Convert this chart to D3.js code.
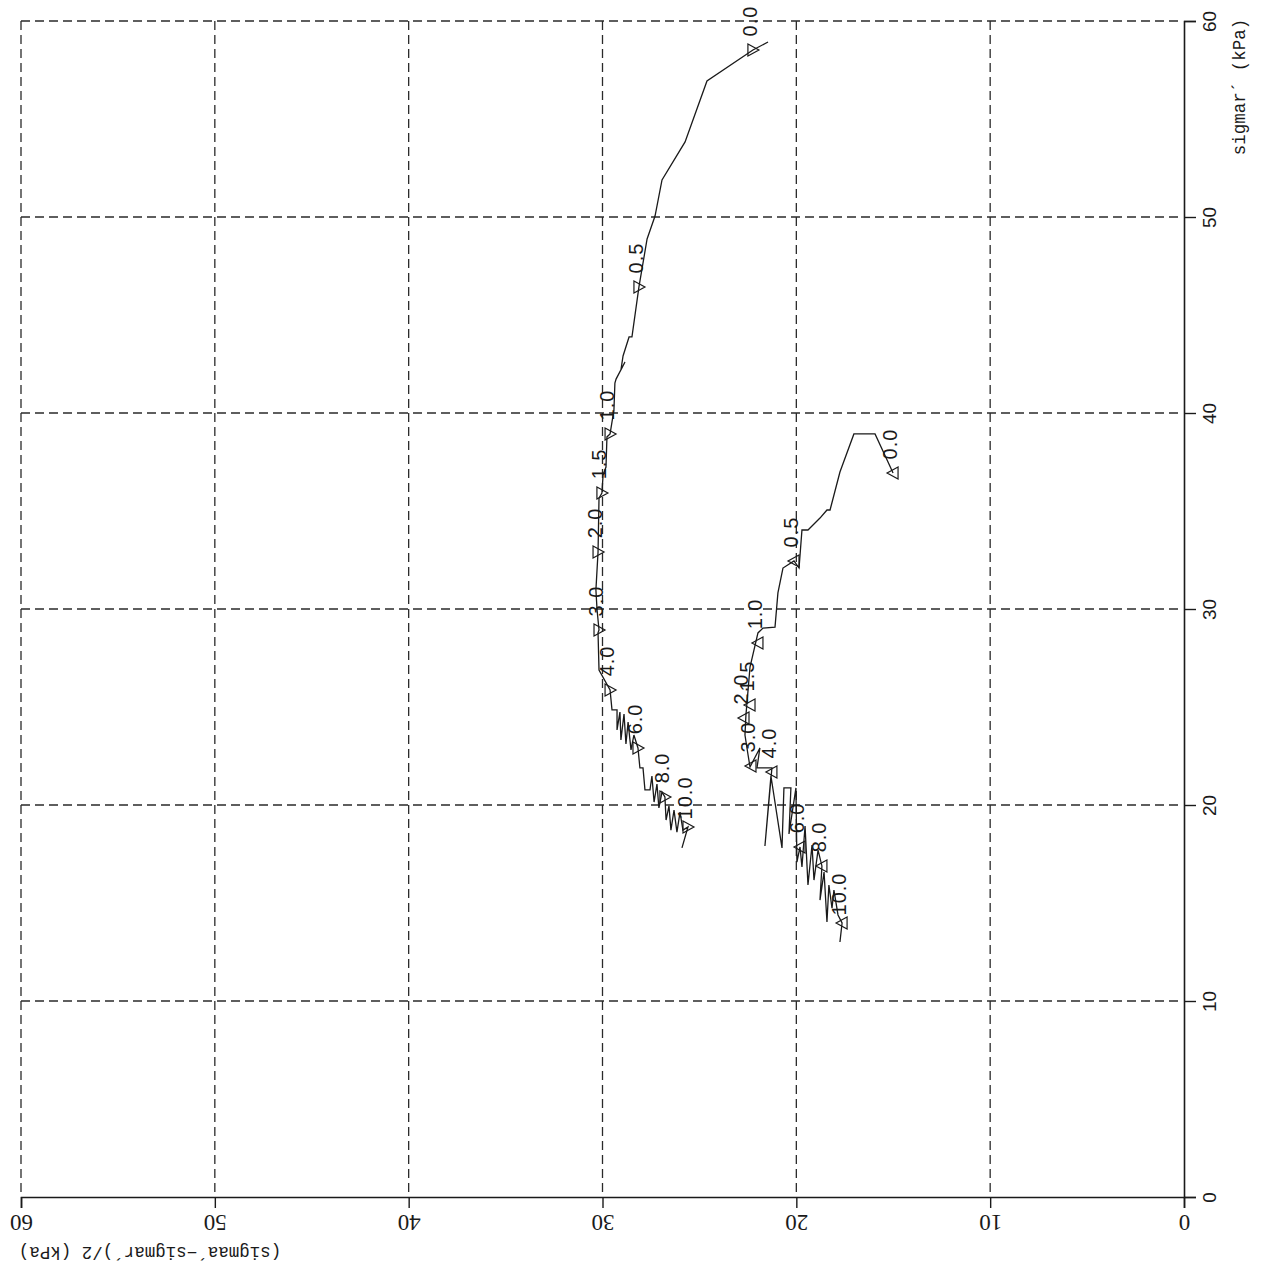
<!DOCTYPE html>
<html><head><meta charset="utf-8">
<script src="https://cdn.jsdelivr.net/npm/d3@7"></script>
<style>html,body{margin:0;padding:0;background:#fff;}</style>
</head><body>
<svg id="chart" width="1265" height="1266"></svg>
<script>
// ---- data ----
const majorTicks = [0, 10, 20, 30, 40, 50, 60];
const tickLabels = ["0", "10", "20", "30", "40", "50", "60"];
const minorTicks = [2,4,6,8,12,14,16,18,22,24,26,28,32,34,36,38,42,44,46,48,52,54,56,58];
const xTitle = "(sigmaa\u00B4\u2212sigmar\u00B4)/2 (kPa)";
const yTitle = "sigmar\u00B4 (kPa)";

// test A (left path): q = (sigmaa'-sigmar')/2, s = sigmar'
const pathA_q = [21.46,22.24,24.61,25.74,26.93,27.29,27.70,28.12,28.48,28.63,28.94,29.05,28.84,29.30,29.36,29.41,29.61,29.77,29.82,29.97,30.03,30.18,30.23,30.34,30.28,30.18,30.23,30.18,29.61,29.51,29.25,29.25,29.10,29.05,28.89,28.79,28.68,28.53,28.38,28.17,28.07,27.91,27.81,27.55,27.45,27.34,27.19,27.09,26.93,26.78,26.72,26.57,26.47,26.31,26.16,26.00,25.85,25.59,25.90];
const pathA_s = [58.93,58.52,56.94,53.83,51.89,50.05,48.88,46.43,43.88,43.88,42.91,42.19,42.60,41.73,41.53,40.15,38.93,38.78,37.24,36.84,35.92,35.66,32.91,30.97,29.95,28.93,28.78,26.89,25.87,24.85,24.85,23.83,24.74,23.32,24.64,23.11,24.23,22.81,23.57,22.91,21.89,21.89,20.77,20.77,21.48,20.15,21.07,19.85,20.66,20.41,19.23,19.95,18.72,19.74,18.62,19.64,18.72,18.88,17.81];
const markA_q = [22.24,28.12,29.61,30.03,30.23,30.18,29.61,28.17,26.78,25.59];
const markA_s = [58.52,46.43,38.93,35.92,32.91,28.93,25.87,22.91,20.41,18.88];
const markA_t = ["0.0","0.5","1.0","1.5","2.0","3.0","4.0","6.0","8.0","10.0"];

// test B (right path)
const pathB_q = [15.01,15.27,15.94,17.03,17.75,18.26,18.42,18.78,19.40,19.71,19.86,20.12,20.69,20.95,21.10,21.72,21.98,22.39,22.49,22.60,22.65,22.49,22.39,21.88,22.03,21.26,21.62,21.31,20.74,20.64,20.28,20.38,20.02,19.97,19.81,19.71,19.55,19.40,19.19,19.09,18.88,18.68,18.78,18.57,18.42,18.32,18.16,18.06,17.85,17.64,17.75];
const pathB_s = [36.94,37.50,38.93,38.93,36.99,35.05,35.05,34.64,34.03,34.03,32.09,32.45,32.09,30.82,29.08,29.03,28.78,27.04,25.87,24.59,23.57,22.55,21.94,22.91,21.89,21.89,17.91,21.48,17.81,20.87,20.87,18.52,20.87,17.09,17.86,16.84,18.93,15.92,17.96,16.17,17.70,16.89,15.15,16.58,14.03,15.92,14.74,15.66,14.39,13.98,13.01];
const markB_q = [15.01,20.12,21.98,22.39,22.70,22.34,21.26,19.81,18.68,17.64];
const markB_s = [36.94,32.45,28.27,25.10,24.44,21.99,21.68,17.86,16.89,13.98];
const markB_t = ["0.0","0.5","1.0","1.5","2.0","3.0","4.0","6.0","8.0","10.0"];

// ---- drawing ----
const svg = d3.select("#chart");
const x = d3.scaleLinear().domain([0, 60]).range([1184, 21]);
const y = d3.scaleLinear().domain([0, 60]).range([1197, 21]);
const ink = "#1a1a1a";

// dashed grid
const grid = svg.append("g").attr("stroke", "#2a2a2a").attr("stroke-width", 1.3)
  .attr("stroke-dasharray", "9,5").attr("fill", "none");
grid.selectAll("line.v").data(majorTicks.filter(d => d > 0)).join("line")
  .attr("x1", d => x(d)).attr("x2", d => x(d))
  .attr("y1", y(60)).attr("y2", y(0) - 4);
grid.selectAll("line.h").data(majorTicks.filter(d => d > 0)).join("line")
  .attr("class", "h")
  .attr("y1", d => y(d)).attr("y2", d => y(d))
  .attr("x1", x(60)).attr("x2", x(0) - 2);

// bottom axis
const bottom = svg.append("g").attr("transform", `translate(0,${y(0)})`);
bottom.call(d3.axisBottom(x).tickValues(minorTicks).tickSize(7).tickFormat(""));
bottom.call(d3.axisBottom(x).tickValues(majorTicks).tickSize(11).tickFormat((d, i) => tickLabels[i]));
bottom.selectAll("path.domain").attr("stroke", ink).attr("stroke-width", 1.6);
bottom.selectAll("line").attr("stroke", ink).attr("stroke-width", 1.4);
bottom.selectAll("text")
  .attr("y", 25).attr("dy", null)
  .attr("dominant-baseline", "central").attr("text-anchor", "middle")
  .attr("transform", "rotate(180 0 25)")
  .attr("font-family", "Liberation Serif, serif").attr("font-size", 23).attr("fill", ink);

// right axis
const right = svg.append("g").attr("transform", `translate(${x(0)},0)`);
right.call(d3.axisRight(y).tickValues(minorTicks).tickSize(7).tickFormat(""));
right.call(d3.axisRight(y).tickValues(majorTicks).tickSize(12).tickFormat((d, i) => tickLabels[i]));
right.selectAll("path.domain").attr("stroke", ink).attr("stroke-width", 1.6);
right.selectAll("line").attr("stroke", ink).attr("stroke-width", 1.4);
right.selectAll("text")
  .attr("x", 25).attr("dy", null)
  .attr("dominant-baseline", "central").attr("text-anchor", "middle")
  .attr("transform", "rotate(-90 25 0)")
  .attr("font-family", "Liberation Sans, Arial, sans-serif").attr("font-size", 19).attr("fill", ink);

// axis titles
svg.append("text")
  .attr("transform", `translate(150,1252) rotate(180)`)
  .attr("text-anchor", "middle").attr("dominant-baseline", "central")
  .attr("font-family", "Liberation Mono, monospace").attr("font-size", 17.5).attr("fill", ink)
  .text(xTitle);
svg.append("text")
  .attr("transform", `translate(1240,87) rotate(-90)`)
  .attr("text-anchor", "middle").attr("dominant-baseline", "central")
  .attr("font-family", "Liberation Mono, monospace").attr("font-size", 17.5).attr("fill", ink)
  .text(yTitle);

// stress paths
const line = d3.line().x(d => x(d[0])).y(d => y(d[1]));
function drawPath(qs, ss, mq, ms, mt, dir) {
  const g = svg.append("g");
  g.append("path").datum(qs.map((q, i) => [q, ss[i]]))
    .attr("d", line).attr("fill", "none").attr("stroke", ink).attr("stroke-width", 1.3)
    .attr("stroke-linejoin", "miter");
  const marks = mq.map((q, i) => ({ q, s: ms[i], t: mt[i] }));
  const tri = dir > 0 ? "M-5,-6L6,0L-5,6Z" : "M5,-6L-6,0L5,6Z";
  g.selectAll("path.m").data(marks).join("path")
    .attr("class", "m")
    .attr("d", tri)
    .attr("transform", d => `translate(${x(d.q)},${y(d.s)})`)
    .attr("fill", "none").attr("stroke", ink).attr("stroke-width", 1.2);
  g.selectAll("text").data(marks).join("text")
    .attr("transform", d => `translate(${x(d.q) - 3},${y(d.s) - 29}) rotate(-90)`)
    .attr("text-anchor", "middle").attr("dominant-baseline", "central")
    .attr("font-family", "Liberation Sans, Arial, sans-serif").attr("font-size", 20)
    .attr("letter-spacing", 1).attr("fill", ink)
    .text(d => d.t);
}
drawPath(pathA_q, pathA_s, markA_q, markA_s, markA_t, 1);
drawPath(pathB_q, pathB_s, markB_q, markB_s, markB_t, -1);
</script>
</body></html>
